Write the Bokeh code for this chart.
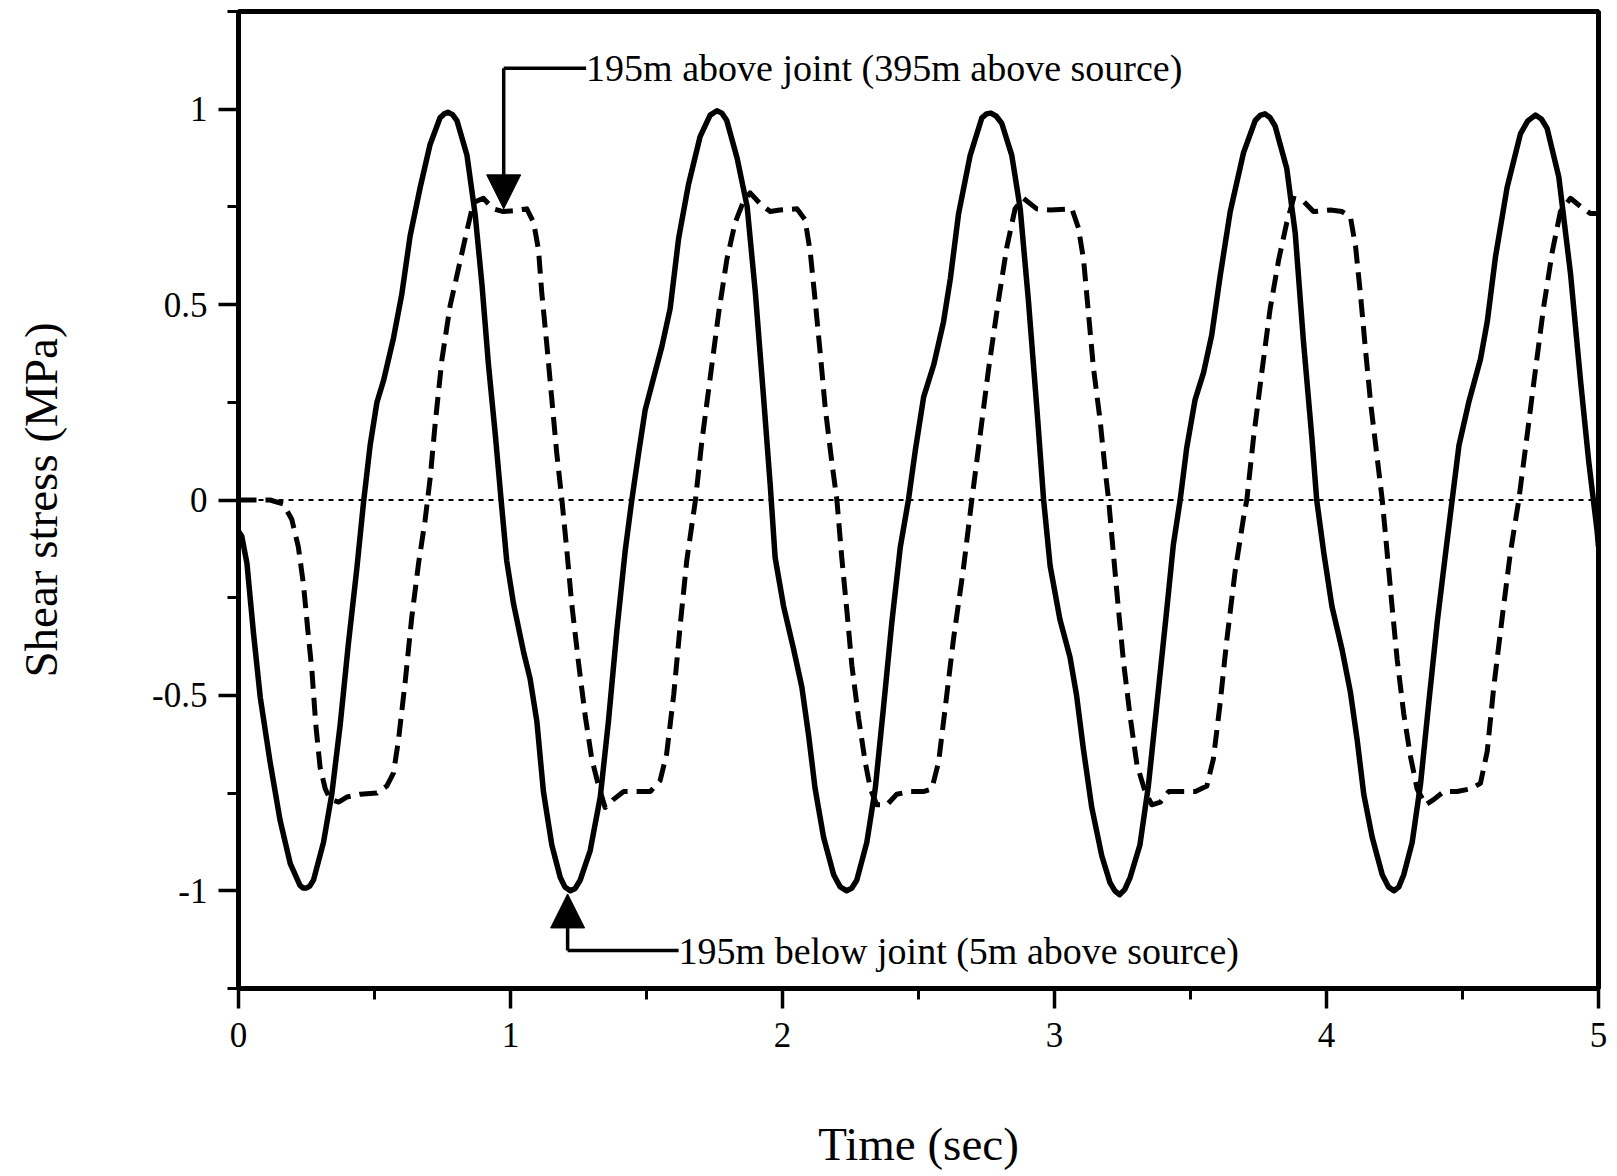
from bokeh.plotting import figure
from bokeh.models import Range1d, FixedTicker, Arrow, NormalHead, ColumnDataSource
from bokeh.core.properties import value
from bokeh.embed import file_html
from bokeh.resources import INLINE

# ---------------- data ----------------
# 195m below joint (5m above source) -- solid line
solid_t = [0.0, 0.012, 0.031, 0.055, 0.08, 0.116, 0.153, 0.19, 0.226, 0.238, 0.249, 0.262, 0.276, 0.3125, 0.343,
           0.374, 0.404, 0.435, 0.46, 0.484, 0.509, 0.533, 0.57, 0.6, 0.631, 0.668, 0.704, 0.741, 0.756,
           0.77, 0.787, 0.803, 0.84, 0.87, 0.895, 0.919, 0.944, 0.966,
           0.986, 1.011, 1.048, 1.072, 1.097, 1.121, 1.152, 1.183, 1.2, 1.22, 1.238, 1.256, 1.293, 1.33, 1.36,
           1.391, 1.422, 1.446, 1.471, 1.495, 1.526, 1.557, 1.587, 1.618, 1.654, 1.697, 1.734, 1.759, 1.777,
           1.795, 1.833, 1.87, 1.9, 1.931, 1.955,
           1.973, 2.004, 2.041, 2.071, 2.096, 2.12, 2.151, 2.188, 2.212, 2.236, 2.255, 2.273, 2.31, 2.341, 2.371,
           2.402, 2.433, 2.463, 2.488, 2.519, 2.556, 2.592, 2.617, 2.647, 2.69, 2.733, 2.75, 2.766, 2.786, 2.806,
           2.843, 2.874, 2.904, 2.935, 2.96,
           2.984, 3.02, 3.057, 3.081, 3.106, 3.137, 3.174, 3.204, 3.222, 3.239, 3.258, 3.278, 3.314, 3.345, 3.376,
           3.413, 3.437, 3.462, 3.486, 3.517, 3.548, 3.578, 3.609, 3.646, 3.695, 3.738, 3.756, 3.774, 3.793, 3.811,
           3.854, 3.885, 3.915, 3.946, 3.964,
           3.99, 4.02, 4.057, 4.088, 4.113, 4.137, 4.168, 4.205, 4.228, 4.248, 4.266, 4.284, 4.315, 4.346, 4.376,
           4.407, 4.438, 4.462, 4.487, 4.523, 4.566, 4.591, 4.621, 4.664, 4.713, 4.74, 4.768, 4.79, 4.811, 4.854,
           4.897, 4.934, 4.964, 4.995, 5.0]
solid_v = [-0.08, -0.093, -0.162, -0.34, -0.505, -0.67, -0.82, -0.93, -0.986, -0.993, -0.993, -0.988, -0.972, -0.876, -0.753,
           -0.574, -0.368, -0.176, -0.004, 0.14, 0.25, 0.305, 0.415, 0.525, 0.676, 0.80, 0.909, 0.978, 0.988,
           0.992, 0.986, 0.971, 0.882, 0.731, 0.552, 0.346, 0.168, -0.004,
           -0.155, -0.265, -0.389, -0.457, -0.567, -0.746, -0.883, -0.966, -0.99, -1.0, -0.994, -0.973, -0.897, -0.76, -0.567,
           -0.334, -0.128, 0.0, 0.12, 0.23, 0.312, 0.394, 0.49, 0.669, 0.806, 0.93, 0.985, 0.996, 0.99,
           0.971, 0.875, 0.751, 0.532, 0.257, 0.037,
           -0.148, -0.272, -0.382, -0.478, -0.602, -0.739, -0.863, -0.959, -0.99, -1.0, -0.993, -0.973, -0.876, -0.739, -0.533,
           -0.313, -0.121, 0.0, 0.126, 0.264, 0.346, 0.456, 0.566, 0.731, 0.882, 0.978, 0.988, 0.99, 0.982, 0.964,
           0.882, 0.745, 0.511, 0.236, 0.0,
           -0.169, -0.306, -0.402, -0.499, -0.636, -0.787, -0.911, -0.979, -1.0, -1.01, -0.997, -0.966, -0.883, -0.732, -0.526,
           -0.279, -0.114, 0.0, 0.133, 0.257, 0.326, 0.422, 0.573, 0.738, 0.889, 0.971, 0.984, 0.988, 0.978, 0.957,
           0.848, 0.683, 0.408, 0.161, 0.0,
           -0.135, -0.272, -0.382, -0.492, -0.615, -0.753, -0.863, -0.959, -0.99, -1.0, -0.99, -0.959, -0.876, -0.725, -0.519,
           -0.313, -0.135, 0.0, 0.14, 0.25, 0.36, 0.456, 0.621, 0.8, 0.937, 0.97, 0.985, 0.975, 0.951, 0.827,
           0.58, 0.305, 0.099, -0.08, -0.12]

# 195m above joint (395m above source) -- dashed line
dashed_t = [0.0, 0.116, 0.165, 0.196, 0.22, 0.239, 0.254, 0.27, 0.284, 0.3, 0.319, 0.337, 0.368, 0.398,
            0.447, 0.509, 0.545, 0.57, 0.588, 0.613, 0.637, 0.662, 0.686, 0.705, 0.723, 0.748, 0.778,
            0.809, 0.84, 0.864, 0.9, 0.9375, 0.974, 1.011, 1.06, 1.085, 1.103, 1.115, 1.134, 1.152,
            1.17, 1.189, 1.207, 1.225, 1.25, 1.275, 1.299, 1.324, 1.348, 1.379, 1.416, 1.465, 1.514,
            1.55, 1.574, 1.6, 1.624, 1.648, 1.68, 1.703, 1.734, 1.765, 1.795, 1.826, 1.857, 1.881,
            1.918, 1.955, 1.99, 2.053, 2.083, 2.102, 2.12, 2.139, 2.157, 2.181, 2.2, 2.218, 2.237,
            2.255, 2.28, 2.304, 2.323, 2.347, 2.384, 2.42, 2.469, 2.518, 2.549, 2.574, 2.598, 2.629,
            2.665, 2.696, 2.727, 2.757, 2.794, 2.825, 2.855, 2.886, 2.935, 2.984, 3.064, 3.088, 3.107,
            3.125, 3.143, 3.168, 3.186, 3.199, 3.217, 3.235, 3.254, 3.278, 3.303, 3.333, 3.358, 3.389,
            3.42, 3.47, 3.518, 3.56, 3.584, 3.608, 3.633, 3.664, 3.695, 3.707, 3.732, 3.762, 3.793,
            3.824, 3.854, 3.879, 3.915, 3.952, 4.015, 4.057, 4.088, 4.107, 4.125, 4.143, 4.162, 4.186,
            4.205, 4.223, 4.241, 4.26, 4.284, 4.309, 4.333, 4.364, 4.395, 4.431, 4.48, 4.53, 4.566,
            4.591, 4.615, 4.646, 4.676, 4.707, 4.738, 4.768, 4.799, 4.83, 4.86, 4.897, 4.934, 4.97, 5.0]
dashed_v = [0.0, 0.0, -0.01, -0.05, -0.12, -0.217, -0.327, -0.437, -0.574, -0.684, -0.739, -0.766, -0.773, -0.76,
            -0.753, -0.75, -0.732, -0.698, -0.615, -0.464, -0.3, -0.162, -0.052, 0.058, 0.195, 0.36, 0.497,
            0.593, 0.69, 0.761, 0.772, 0.745, 0.738, 0.74, 0.745, 0.71, 0.64, 0.53, 0.394, 0.257,
            0.12, 0.0, -0.128, -0.265, -0.416, -0.554, -0.663, -0.732, -0.787, -0.766, -0.746, -0.746, -0.746,
            -0.718, -0.65, -0.499, -0.32, -0.155, 0.0, 0.147, 0.312, 0.477, 0.614, 0.71, 0.765, 0.786,
            0.758, 0.738, 0.742, 0.745, 0.717, 0.635, 0.511, 0.374, 0.236, 0.099, 0.0, -0.148, -0.286,
            -0.423, -0.56, -0.67, -0.739, -0.78, -0.78, -0.753, -0.746, -0.746, -0.739, -0.67, -0.533, -0.354,
            -0.176, 0.0, 0.168, 0.332, 0.511, 0.648, 0.745, 0.772, 0.745, 0.742, 0.745, 0.696, 0.614,
            0.477, 0.339, 0.202, 0.078, 0.0, -0.141, -0.279, -0.416, -0.554, -0.677, -0.746, -0.78, -0.773,
            -0.746, -0.746, -0.746, -0.732, -0.663, -0.526, -0.361, -0.183, -0.045, 0.0, 0.161, 0.326, 0.49,
            0.614, 0.71, 0.772, 0.765, 0.738, 0.742, 0.738, 0.724, 0.648, 0.525, 0.387, 0.25, 0.11,
            0.0, -0.135, -0.272, -0.409, -0.547, -0.657, -0.739, -0.78, -0.766, -0.746, -0.746, -0.739, -0.725,
            -0.643, -0.478, -0.3, -0.135, 0.0, 0.168, 0.332, 0.497, 0.635, 0.738, 0.772, 0.751, 0.733, 0.733]

# zero reference line
zero_t = [0.0, 5.0]
zero_v = [0.0, 0.0]

# axis ticks
x_major = [0, 1, 2, 3, 4, 5]
x_minor = [0.5, 1.5, 2.5, 3.5, 4.5]
y_major = [-1.0, -0.5, 0.0, 0.5, 1.0]
y_major_labels = ["-1", "-0.5", "0", "0.5", "1"]
y_minor = [-1.25, -0.75, -0.25, 0.25, 0.75, 1.25]

# annotations: label, text anchor, leader corner, arrow tip
above_label = "195m above joint (395m above source)"
above_text_xy = (1.278, 1.105)
above_corner_xy = (0.975, 1.105)
above_tip_xy = (0.975, 0.745)

below_label = "195m below joint (5m above source)"
below_text_xy = (1.618, -1.153)
below_corner_xy = (1.21, -1.153)
below_tip_xy = (1.21, -1.008)

FONT = "Liberation Serif"

p = figure(width=1617, height=1176, output_backend="svg", toolbar_location=None,
           x_range=Range1d(0, 5), y_range=Range1d(-1.25, 1.25),
           min_border_left=238, min_border_right=19, min_border_top=11, min_border_bottom=188)
p.background_fill_color = "white"
p.border_fill_color = "white"
p.outline_line_color = "black"
p.outline_line_width = 5
p.xgrid.visible = False
p.ygrid.visible = False

p.xaxis.ticker = FixedTicker(ticks=x_major, minor_ticks=x_minor)
p.yaxis.ticker = FixedTicker(ticks=y_major, minor_ticks=y_minor)
p.yaxis.major_label_overrides = {float(k): s for k, s in zip(y_major, y_major_labels)}
p.xaxis.major_label_overrides = {int(k): str(k) for k in x_major}

for ax in (p.xaxis[0], p.yaxis[0]):
    ax.axis_line_width = 5
    ax.axis_line_color = "black"
    ax.major_tick_line_width = 3.5
    ax.minor_tick_line_width = 3
    ax.major_tick_line_color = "black"
    ax.minor_tick_line_color = "black"
    ax.major_tick_in = 0
    ax.minor_tick_in = 0
    ax.major_tick_out = 20
    ax.minor_tick_out = 11
    ax.major_label_text_font = FONT
    ax.major_label_text_font_size = "35px"
    ax.major_label_text_color = "black"
    ax.axis_label_text_font = FONT
    ax.axis_label_text_font_size = "47px"
    ax.axis_label_text_font_style = "normal"
    ax.axis_label_text_color = "black"

p.xaxis.axis_label = "Time (sec)"
p.yaxis.axis_label = "Shear stress (MPa)"
p.xaxis.major_label_standoff = 14
p.yaxis.major_label_standoff = 11
p.xaxis.axis_label_standoff = 68
p.yaxis.axis_label_standoff = 82

# zero line
p.line(zero_t, zero_v, line_color="black", line_width=2, line_dash="5 5")
# curves
p.line(solid_t, solid_v, line_color="black", line_width=5.5, line_join="round")
p.line(dashed_t, dashed_v, line_color="black", line_width=5, line_dash="18 9", line_join="round")

# annotation leaders
p.line([above_text_xy[0], above_corner_xy[0]], [above_text_xy[1], above_corner_xy[1]],
       line_color="black", line_width=3.5)
p.add_layout(Arrow(end=NormalHead(size=34, fill_color="black", line_color="black", line_width=1),
                   x_start=above_corner_xy[0], y_start=above_corner_xy[1],
                   x_end=above_tip_xy[0], y_end=above_tip_xy[1],
                   line_color="black", line_width=3.5))
p.line([below_text_xy[0], below_corner_xy[0]], [below_text_xy[1], below_corner_xy[1]],
       line_color="black", line_width=3.5)
p.add_layout(Arrow(end=NormalHead(size=34, fill_color="black", line_color="black", line_width=1),
                   x_start=below_corner_xy[0], y_start=below_corner_xy[1],
                   x_end=below_tip_xy[0], y_end=below_tip_xy[1],
                   line_color="black", line_width=3.5))

ann = ColumnDataSource(dict(x=[above_text_xy[0], below_text_xy[0]],
                            y=[above_text_xy[1], below_text_xy[1]],
                            text=[above_label, below_label]))
p.text(x="x", y="y", text="text", source=ann, text_font=value(FONT), text_font_size="38px",
       text_align="left", text_baseline="middle", text_color="black")

open("out.html", "w").write(file_html(p, INLINE))
